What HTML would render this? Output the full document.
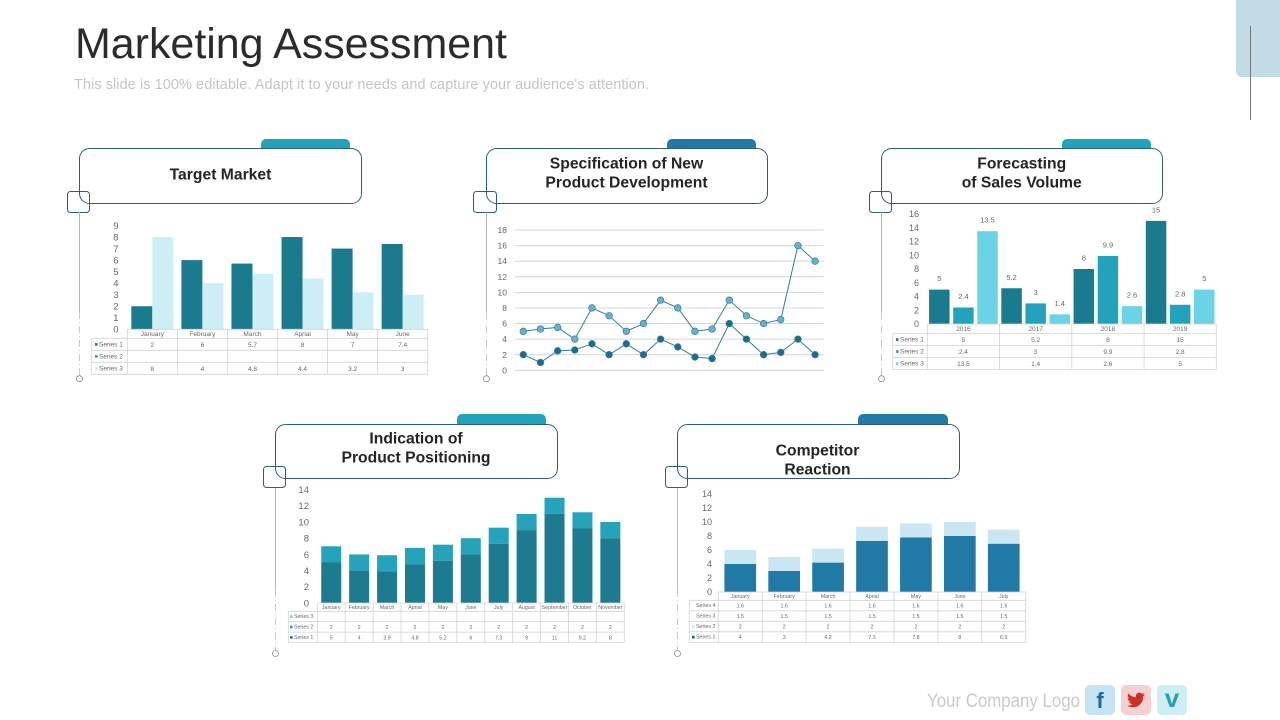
<!DOCTYPE html>
<html lang="en">
<head>
<meta charset="utf-8">
<title>Marketing Assessment</title>
<style>
html,body{margin:0;padding:0;background:#fff;width:1280px;height:720px;overflow:hidden}
svg{display:block;font-family:"Liberation Sans",sans-serif}
.box{fill:#fff;stroke:#2a5f75;stroke-width:1}
.sq{fill:none;stroke:#2a5f75;stroke-width:1}
.vl{stroke:#b8b8b8;stroke-width:1;fill:none}
.vd{stroke:#c8c8c8;stroke-width:1;fill:none;stroke-dasharray:7 3 1 3}
.dot{fill:#fff;stroke:#8a8a8a;stroke-width:.8}
.pt{font-size:15.7px;font-weight:700;fill:#242424;text-anchor:middle}
</style>
</head>
<body>
<svg id="slide" width="1280" height="720" viewBox="0 0 1280 720" xmlns="http://www.w3.org/2000/svg">
  <text x="75" y="58" font-size="43" fill="#2b2b2b" textLength="432" lengthAdjust="spacing">Marketing Assessment</text>
  <text x="74" y="89" font-size="14.5" fill="#c4c4c4" textLength="575" lengthAdjust="spacing">This slide is 100% editable. Adapt it to your needs and capture your audience's attention.</text>
  <path d="M1236 0H1280V77H1243Q1236 77 1236 70Z" fill="#c3dbe6"/>
  <line x1="1250.5" y1="26" x2="1250.5" y2="120" stroke="#777" stroke-width="1"/>

  <g>
    <rect x="261" y="139" width="89" height="20" rx="5" fill="#22a3bb"/>
    <rect class="box" x="79.5" y="148.5" width="282" height="55" rx="10"/>
    <text class="pt" x="220.5" y="179.5">Target Market</text>
    <rect class="sq" x="67.5" y="191.5" width="22" height="21" rx="3"/>
    <line class="vl" x1="79.5" y1="212" x2="79.5" y2="312"/>
    <line class="vd" x1="79.5" y1="312" x2="79.5" y2="375"/>
    <circle class="dot" cx="79.5" cy="378.7" r="3"/>
  </g>
  <g>
    <rect x="667" y="139" width="89" height="20" rx="5" fill="#217aa6"/>
    <rect class="box" x="486.5" y="148.5" width="281" height="55" rx="10"/>
    <text class="pt" x="626.5" y="168.5">Specification of New</text>
    <text class="pt" x="626.5" y="187.5">Product Development</text>
    <rect class="sq" x="473.5" y="191.5" width="23" height="21" rx="3"/>
    <line class="vl" x1="486.5" y1="212" x2="486.5" y2="312"/>
    <line class="vd" x1="486.5" y1="312" x2="486.5" y2="375"/>
    <circle class="dot" cx="486.5" cy="378.7" r="3"/>
  </g>
  <g>
    <rect x="1062" y="139" width="89" height="20" rx="5" fill="#22a3bb"/>
    <rect class="box" x="881.5" y="148.5" width="281" height="55" rx="10"/>
    <text class="pt" x="1021.7" y="168.5">Forecasting</text>
    <text class="pt" x="1021.7" y="187.5">of Sales Volume</text>
    <rect class="sq" x="869.5" y="191.5" width="22" height="21" rx="3"/>
    <line class="vl" x1="881.5" y1="212" x2="881.5" y2="312"/>
    <line class="vd" x1="881.5" y1="312" x2="881.5" y2="375"/>
    <circle class="dot" cx="881.5" cy="378.7" r="3"/>
  </g>
  <g>
    <rect x="457" y="414" width="89" height="20" rx="5" fill="#22a3bb"/>
    <rect class="box" x="275.5" y="424.5" width="282" height="54" rx="10"/>
    <text class="pt" x="416" y="443.5">Indication of</text>
    <text class="pt" x="416" y="462.5">Product Positioning</text>
    <rect class="sq" x="263.5" y="466.5" width="22" height="21" rx="3"/>
    <line class="vl" x1="275.5" y1="488" x2="275.5" y2="590"/>
    <line class="vd" x1="275.5" y1="590" x2="275.5" y2="650"/>
    <circle class="dot" cx="275.5" cy="653.5" r="3"/>
  </g>
  <g>
    <rect x="858" y="414" width="90" height="20" rx="5" fill="#217aa6"/>
    <rect class="box" x="677.5" y="424.5" width="282" height="54" rx="10"/>
    <text class="pt" x="817.5" y="455.5">Competitor</text>
    <text class="pt" x="817.5" y="474.5">Reaction</text>
    <rect class="sq" x="665.5" y="466.5" width="22" height="21" rx="3"/>
    <line class="vl" x1="677.5" y1="488" x2="677.5" y2="590"/>
    <line class="vd" x1="677.5" y1="590" x2="677.5" y2="650"/>
    <circle class="dot" cx="677.5" cy="653.5" r="3"/>
  </g>

  <g id="chart-target"></g>
  <g id="chart-spec"></g>
  <g id="chart-forecast"></g>
  <g id="chart-position"></g>
  <g id="chart-competitor"></g>

  <text x="927" y="707" font-size="19" fill="#c9c9c9" textLength="153" lengthAdjust="spacingAndGlyphs">Your Company Logo</text>
  <g>
    <rect x="1085" y="685" width="30" height="30" rx="5" fill="#c5e3f0"/>
    <text x="1100" y="708" font-size="22" font-weight="700" fill="#1f6b96" text-anchor="middle">f</text>
  </g>
  <g>
    <rect x="1121" y="685" width="30" height="30" rx="5" fill="#f5d0d3"/>
    <path transform="translate(1127 691) scale(.75)" fill="#c9302c" d="M23.953 4.57a10 10 0 01-2.825.775 4.958 4.958 0 002.163-2.723c-.951.555-2.005.959-3.127 1.184a4.92 4.92 0 00-8.384 4.482C7.69 8.095 4.067 6.13 1.64 3.162a4.822 4.822 0 00-.666 2.475c0 1.71.87 3.213 2.188 4.096a4.904 4.904 0 01-2.228-.616v.06a4.923 4.923 0 003.946 4.827 4.996 4.996 0 01-2.212.085 4.936 4.936 0 004.604 3.417 9.867 9.867 0 01-6.102 2.105c-.39 0-.779-.023-1.17-.067a13.995 13.995 0 007.557 2.209c9.053 0 13.998-7.496 13.998-13.985 0-.21 0-.42-.015-.63A9.935 9.935 0 0024 4.59z"/>
  </g>
  <g>
    <rect x="1157" y="685" width="30" height="30" rx="5" fill="#cdeef5"/>
    <text x="1172" y="707" font-size="26" font-weight="700" fill="#2a9db5" text-anchor="middle">v</text>
  </g>
</svg>
<script>
// ---- Target Market data ----
const targetCategories = ['January','February','March','Aprial','May','June'];
const targetSeries1 = [2,6,5.7,8,7,7.4];
const targetSeries2 = [null,null,null,null,null,null];
const targetSeries3 = [8,4,4.8,4.4,3.2,3];
const targetTicks = [0,1,2,3,4,5,6,7,8,9];

// ---- Product Development data ----
const specSeriesA = [5,5.3,5.5,4,8,7,5,6,9,8,5,5.3,9,7,6,6.5,16,14];
const specSeriesB = [2,1,2.5,2.6,3.4,2,3.4,2,4,3,1.7,1.5,6,4,2,2.3,4,2];
const specTicks = [0,2,4,6,8,10,12,14,16,18];

// ---- Sales Forecast data ----
const forecastCategories = ['2016','2017','2018','2019'];
const forecastSeries1 = [5,5.2,8,15];
const forecastSeries2 = [2.4,3,9.9,2.8];
const forecastSeries3 = [13.5,1.4,2.6,5];
const forecastTicks = [0,2,4,6,8,10,12,14,16];

// ---- Product Positioning data ----
const positionCategories = ['January','February','March','Aprial','May','June','July','August','September','October','November'];
const positionSeries1 = [5,4,3.9,4.8,5.2,6,7.3,9,11,9.2,8];
const positionSeries2 = [2,2,2,2,2,2,2,2,2,2,2];
const positionSeries3 = [null,null,null,null,null,null,null,null,null,null,null];
const positionTicks = [0,2,4,6,8,10,12,14];

// ---- Competitor Reaction data ----
const competitorCategories = ['January','February','March','Aprial','May','June','July'];
const competitorSeries1 = [4,3,4.2,7.3,7.8,8,6.9];
const competitorSeries2 = [2,2,2,2,2,2,2];
const competitorSeries3 = [1.5,1.5,1.5,1.5,1.5,1.5,1.5];
const competitorSeries4 = [1.6,1.6,1.6,1.6,1.6,1.6,1.6];
const competitorTicks = [0,2,4,6,8,10,12,14];

const NS = 'http://www.w3.org/2000/svg';
function make(parent, tag, attrs, txt) {
  const n = document.createElementNS(NS, tag);
  for (const k in attrs) n.setAttribute(k, attrs[k]);
  if (txt !== undefined) n.textContent = txt;
  parent.appendChild(n);
  return n;
}
function linearY(y0, yTop, max) { return v => y0 - (v / max) * (y0 - yTop); }
function bandX(x0, x1, count) {
  const w = (x1 - x0) / count;
  const f = i => x0 + (i + 0.5) * w;
  f.width = w;
  return f;
}
function drawYAxis(g, ticks, y, x, size) {
  ticks.forEach(t => {
    const lab = make(g, 'text', {x: x, y: y(t) + size * 0.36, 'font-size': size, fill: '#666', 'text-anchor': 'end'}, String(t));
    
    
  });
}
function drawTable(g, c) {
  const n = c.cats.length;
  const w = (c.x1 - c.x0) / n;
  const bottom = c.y0 + c.headH + c.rowH * c.rows.length;
  const S = '#d2d2d2';
  const tbl = make(g, 'g', {});
  
  
  for (let i = 0; i <= n; i++) {
    const v = make(tbl, 'line', {x1: c.x0 + i * w, x2: c.x0 + i * w, y1: c.y0, y2: bottom, stroke: S, 'stroke-width': .8});
    
    
  }
  const lv = make(tbl, 'line', {x1: c.legX, x2: c.legX, y1: c.y0 + c.headH, y2: bottom, stroke: S, 'stroke-width': .8});
  
  
  const top = make(tbl, 'line', {x1: c.x0, x2: c.x1, y1: c.y0, y2: c.y0, stroke: S, 'stroke-width': .8});
  
  
  for (let r = 0; r <= c.rows.length; r++) {
    const yy = c.y0 + c.headH + r * c.rowH;
    const h = make(tbl, 'line', {x1: c.legX, x2: c.x1, y1: yy, y2: yy, stroke: S, 'stroke-width': .8});
    
    
  }
  c.cats.forEach((cat, i) => {
    const t = make(tbl, 'text', {x: c.x0 + (i + .5) * w, y: c.y0 + c.headH / 2 + c.font * .36, 'font-size': c.font, fill: '#666', 'text-anchor': 'middle'}, cat);
    
    
  });
  c.rows.forEach((row, r) => {
    const cy = c.y0 + c.headH + (r + .5) * c.rowH;
    if (row.color) {
      const m = make(tbl, 'rect', {x: c.markX, y: cy - 1.2, width: 2.6, height: 2.6, fill: row.color});
      
      
    }
    const l = make(tbl, 'text', {x: c.textX, y: cy + c.font * .3, 'font-size': c.font, fill: '#666'}, row.name);
    
    
    row.values.forEach((v, i) => {
      if (v === null) return;
      const t = make(tbl, 'text', {x: c.x0 + (i + .5) * w, y: cy + c.font * .4, 'font-size': c.font, fill: '#666', 'text-anchor': 'middle'}, String(v));
      
      
    });
  });
}
function drawGrouped(g, c) {
  const visible = c.series.filter(s => s.values.some(v => v !== null));
  c.cats.forEach((cat, i) => {
    visible.forEach((s, k) => {
      const v = s.values[i];
      const off = (k - (visible.length - 1) / 2) * c.step;
      const cx = c.x(i) + off;
      const b = make(g, 'rect', {x: cx - c.barW / 2, y: c.y(v), width: c.barW, height: c.y(0) - c.y(v), fill: s.color});
      
      
      if (c.labels) {
        const t = make(g, 'text', {x: cx, y: c.y(v) - 8.5, 'font-size': 7.5, fill: '#666', 'text-anchor': 'middle'}, String(v));
        
        
      }
    });
  });
}
function drawStacked(g, c) {
  c.cats.forEach((cat, i) => {
    let base = 0;
    c.series.forEach(s => {
      const v = s.values[i];
      const b = make(g, 'rect', {x: c.x(i) - c.barW / 2, y: c.y(base + v), width: c.barW, height: c.y(base) - c.y(base + v), fill: s.color});
      
      
      base += v;
    });
  });
}

// Chart 1: Target Market
(function () {
  const g = document.getElementById('chart-target');
  const y = linearY(329.3, 225.5, targetTicks[targetTicks.length - 1]);
  const x = bandX(127.3, 427.7, targetCategories.length);
  drawYAxis(g, targetTicks, y, 118.5, 9.5);
  drawGrouped(g, {cats: targetCategories, x, y, barW: 21, step: 21, series: [
    {key: 'series-1', values: targetSeries1, color: '#1b7b8e'},
    {key: 'series-2', values: targetSeries2, color: '#2a9db5'},
    {key: 'series-3', values: targetSeries3, color: '#cdeef4'}
  ]});
  drawTable(g, {cats: targetCategories, x0: 127.3, x1: 427.7, legX: 91.3, markX: 95, textX: 99, y0: 329.3, headH: 9, rowH: 12, font: 6.5, rows: [
    {name: 'Series 1', values: targetSeries1, color: '#1b7b8e'},
    {name: 'Series 2', values: targetSeries2, color: '#2a9db5'},
    {name: 'Series 3', values: targetSeries3, color: '#cdeef4'}
  ]});
})();

// Chart 2: Product Development
(function () {
  const g = document.getElementById('chart-spec');
  const y = linearY(370.3, 230, specTicks[specTicks.length - 1]);
  const x0 = 514.7, x1 = 823.7;
  const x = bandX(x0, x1, specSeriesA.length);
  specTicks.forEach(t => {
    const l = make(g, 'line', {x1: x0, x2: x1, y1: y(t), y2: y(t), stroke: '#d4d4d4', 'stroke-width': 1});
    
    
  });
  drawYAxis(g, specTicks, y, 507, 8.5);
  [{key: 'upper', values: specSeriesA, fill: '#6bafd0'}, {key: 'lower', values: specSeriesB, fill: '#1f6b8c'}].forEach(s => {
    const ln = make(g, 'polyline', {points: s.values.map((v, i) => x(i) + ',' + y(v)).join(' '), fill: 'none', stroke: '#2f7f9a', 'stroke-width': 1});
    
    
    s.values.forEach((v, i) => {
      const p = make(g, 'circle', {cx: x(i), cy: y(v), r: 3.3, fill: s.fill, stroke: '#2f7f9a', 'stroke-width': .7});
      
      
    });
  });
})();

// Chart 3: Sales Forecast
(function () {
  const g = document.getElementById('chart-forecast');
  const y = linearY(324, 214, forecastTicks[forecastTicks.length - 1]);
  const x = bandX(927.3, 1216.3, forecastCategories.length);
  drawYAxis(g, forecastTicks, y, 919, 9);
  drawGrouped(g, {cats: forecastCategories, x, y, barW: 20.5, step: 24.1, labels: true, series: [
    {key: 'series-1', values: forecastSeries1, color: '#1b7b8e'},
    {key: 'series-2', values: forecastSeries2, color: '#22a3bb'},
    {key: 'series-3', values: forecastSeries3, color: '#6bd3e6'}
  ]});
  drawTable(g, {cats: forecastCategories, x0: 927.3, x1: 1216.3, legX: 892.7, markX: 896, textX: 900, y0: 324, headH: 9.5, rowH: 12, font: 6.5, rows: [
    {name: 'Series 1', values: forecastSeries1, color: '#1b7b8e'},
    {name: 'Series 2', values: forecastSeries2, color: '#22a3bb'},
    {name: 'Series 3', values: forecastSeries3, color: '#6bd3e6'}
  ]});
})();

// Chart 4: Product Positioning
(function () {
  const g = document.getElementById('chart-position');
  const y = linearY(603, 489.6, positionTicks[positionTicks.length - 1]);
  const x = bandX(317.3, 624.3, positionCategories.length);
  drawYAxis(g, positionTicks, y, 309, 9.5);
  drawStacked(g, {cats: positionCategories, x, y, barW: 20, series: [
    {key: 'series-1', values: positionSeries1, color: '#1d7b8f'},
    {key: 'series-2', values: positionSeries2, color: '#24a3bb'}
  ]});
  drawTable(g, {cats: positionCategories, x0: 317.3, x1: 624.3, legX: 288.3, markX: 290, textX: 294, y0: 603, headH: 8.3, rowH: 10.4, font: 5.25, rows: [
    {name: 'Series 3', values: positionSeries3, color: '#6bd3e6'},
    {name: 'Series 2', values: positionSeries2, color: '#24a3bb'},
    {name: 'Series 1', values: positionSeries1, color: '#1d7b8f'}
  ]});
})();

// Chart 5: Competitor Reaction
(function () {
  const g = document.getElementById('chart-competitor');
  const y = linearY(592, 494, competitorTicks[competitorTicks.length - 1]);
  const x = bandX(718.3, 1025.7, competitorCategories.length);
  drawYAxis(g, competitorTicks, y, 712, 9);
  drawStacked(g, {cats: competitorCategories, x, y, barW: 31.7, series: [
    {key: 'series-1', values: competitorSeries1, color: '#217aa6'},
    {key: 'series-2', values: competitorSeries2, color: '#c9e6f2'}
  ]});
  drawTable(g, {cats: competitorCategories, x0: 718.3, x1: 1025.7, legX: 689.3, markX: 692, textX: 696, y0: 592, headH: 8.3, rowH: 10.5, font: 5.3, rows: [
    {name: 'Series 4', values: competitorSeries4, color: null},
    {name: 'Series 3', values: competitorSeries3, color: null},
    {name: 'Series 2', values: competitorSeries2, color: '#c9e6f2'},
    {name: 'Series 1', values: competitorSeries1, color: '#1d5f80'}
  ]});
})();
</script>
</body>
</html>
